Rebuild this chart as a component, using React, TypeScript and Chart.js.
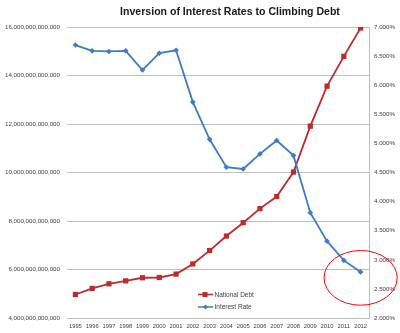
import React, { useEffect, useRef } from "react";
import { Chart, registerables } from "chart.js";

Chart.register(...registerables);

const years = ["1995","1996","1997","1998","1999","2000","2001","2002","2003","2004","2005","2006","2007","2008","2009","2010","2011","2012"];
// National debt, trillions of dollars
const nationalDebtT = [4.97, 5.22, 5.41, 5.53, 5.66, 5.67, 5.81, 6.23, 6.78, 7.38, 7.93, 8.51, 9.01, 10.02, 11.91, 13.56, 14.79, 15.96];
// Interest rate, percent
const interestRate = [6.69, 6.59, 6.58, 6.59, 6.26, 6.55, 6.60, 5.71, 5.07, 4.59, 4.56, 4.82, 5.05, 4.79, 3.81, 3.32, 2.99, 2.79];
const leftTicks = [4e12, 6e12, 8e12, 10e12, 12e12, 14e12, 16e12];
const rightTicks = [2, 2.5, 3, 3.5, 4, 4.5, 5, 5.5, 6, 6.5, 7];
const titleText = "Inversion of Interest Rates to Climbing Debt";
const seriesNames = ["National Debt", "Interest Rate"];
const circleCenter = { index: 17, rate: 2.69 };

const RED = "#BF2A2C";
const BLUE = "#3D7CC4";
const GRID = "#C0C0C0";
const TICK_FONT = "'Liberation Sans', Arial, sans-serif";

const overlayPlugin = {
  id: "overlay",
  afterDraw(chart: any) {
    const ctx = chart.ctx;
    const x = chart.scales.x;
    const y1 = chart.scales.y1;
    // title
    ctx.save();
    ctx.fillStyle = "#1a1a1a";
    ctx.textAlign = "center";
    ctx.textBaseline = "middle";
    let size = 14;
    ctx.font = `bold ${size}px 'Liberation Sans', Arial, sans-serif`;
    const w = ctx.measureText(titleText).width;
    size = size * 220 / w;
    ctx.font = `bold ${size}px 'Liberation Sans', Arial, sans-serif`;
    ctx.fillText(titleText, 230, 12);
    ctx.restore();

    // legend
    ctx.save();
    const items = [
      { name: seriesNames[0], color: RED, style: "rect", y: 294.5 },
      { name: seriesNames[1], color: BLUE, style: "rectRot", y: 307 },
    ];
    for (const it of items) {
      ctx.strokeStyle = it.color;
      ctx.lineWidth = 1.5;
      ctx.beginPath();
      ctx.moveTo(198, it.y);
      ctx.lineTo(213, it.y);
      ctx.stroke();
      ctx.fillStyle = it.color;
      if (it.style === "rect") {
        ctx.fillRect(202.5, it.y - 2.5, 5, 5);
      } else {
        ctx.beginPath();
        ctx.moveTo(205.5, it.y - 2.5);
        ctx.lineTo(208, it.y);
        ctx.lineTo(205.5, it.y + 2.5);
        ctx.lineTo(203, it.y);
        ctx.closePath();
        ctx.fill();
      }
      ctx.fillStyle = "#404040";
      ctx.font = `6.5px ${TICK_FONT}`;
      ctx.textAlign = "left";
      ctx.textBaseline = "middle";
      ctx.fillText(it.name, 214.5, it.y + 0.5);
    }
    ctx.restore();

    // red ellipse annotation
    ctx.save();
    const cx = x.getPixelForValue(circleCenter.index);
    const cy = y1.getPixelForValue(circleCenter.rate);
    const catW = x.getPixelForValue(1) - x.getPixelForValue(0);
    const rx = catW * 2.18;
    const ry = Math.abs(y1.getPixelForValue(circleCenter.rate + 0.47) - cy);
    ctx.strokeStyle = "#FF0000";
    ctx.lineWidth = 1;
    ctx.beginPath();
    ctx.ellipse(cx, cy, rx, ry, 0, 0, Math.PI * 2);
    ctx.stroke();
    ctx.restore();
  },
};

export default function App() {
  const ref = useRef<HTMLCanvasElement>(null);
  useEffect(() => {
    if (!ref.current) return;
    const chart = new Chart(ref.current, {
      type: "line",
      data: {
        labels: years,
        datasets: [
          {
            label: seriesNames[1],
            data: interestRate,
            yAxisID: "y1",
            borderColor: BLUE,
            backgroundColor: BLUE,
            borderWidth: 1.8,
            pointStyle: "rectRot",
            pointRadius: 2.8,
            pointBorderWidth: 0,
            tension: 0,
            order: 0,
          },
          {
            label: seriesNames[0],
            data: nationalDebtT.map((v) => v * 1e12),
            yAxisID: "y",
            borderColor: RED,
            backgroundColor: RED,
            borderWidth: 1.8,
            pointStyle: "rect",
            pointRadius: 3.7,
            pointBorderWidth: 0,
            tension: 0,
            order: 1,
          },
        ],
      },
      options: {
        animation: false,
        responsive: false,
        maintainAspectRatio: false,
        layout: { padding: { top: 27, bottom: 0, left: 0, right: 0 } },
        plugins: { legend: { display: false }, title: { display: false }, tooltip: { enabled: false } },
        scales: {
          x: {
            offset: true,
            grid: { display: false, drawTicks: false },
            border: { display: false },
            ticks: { color: "#404040", font: { size: 5.8, family: TICK_FONT }, padding: 5, maxRotation: 0, autoSkip: false },
            afterFit(s: any) { s.height = 15; },
          },
          y: {
            position: "left",
            min: leftTicks[0],
            max: leftTicks[leftTicks.length - 1],
            afterBuildTicks(s: any) { s.ticks = leftTicks.map((v) => ({ value: v })); },
            grid: { color: GRID, lineWidth: 1, drawTicks: false },
            border: { display: false },
            ticks: {
              color: "#404040",
              font: { size: 6.2, family: TICK_FONT },
              padding: 7,
              callback: (v: any) => Number(v).toLocaleString("en-US"),
            },
            afterFit(s: any) { s.width = 67; },
          },
          y1: {
            position: "right",
            min: rightTicks[0],
            max: rightTicks[rightTicks.length - 1],
            afterBuildTicks(s: any) { s.ticks = rightTicks.map((v) => ({ value: v })); },
            grid: { drawOnChartArea: false, drawTicks: false },
            border: { display: true, color: GRID, width: 1 },
            ticks: {
              color: "#404040",
              font: { size: 6.2, family: TICK_FONT },
              padding: 5,
              callback: (v: any) => Number(v).toFixed(3) + "%",
            },
            afterFit(s: any) { s.width = 31; },
          },
        },
      },
      plugins: [overlayPlugin],
    } as any);
    return () => chart.destroy();
  }, []);
  return (
    <div style={{ position: "absolute", left: 0, top: 0, width: 400, height: 333, background: "#fff" }}>
      <canvas ref={ref} width={400} height={333} style={{ width: 400, height: 333 }} />
    </div>
  );
}
